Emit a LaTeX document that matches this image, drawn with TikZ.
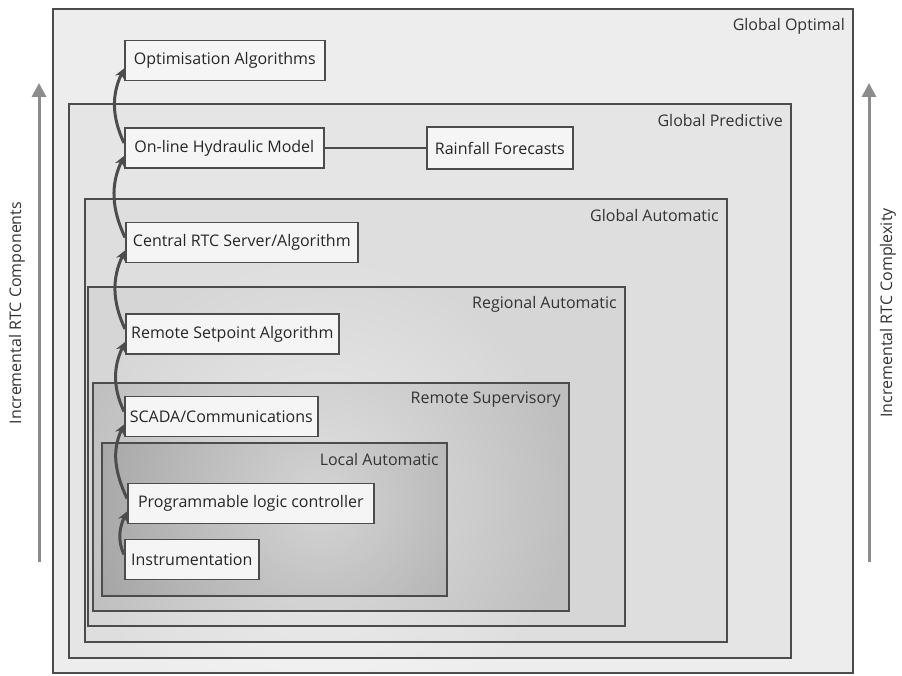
\documentclass[tikz,border=0pt]{standalone}
\usepackage{fontspec}
\setmainfont{Open Sans}
\usetikzlibrary{arrows.meta,fadings}
\tikzfading[name=glow, inner color=transparent!0, outer color=transparent!100]

\begin{document}
\begin{tikzpicture}[x=1pt, y=1pt,
		font=\fontsize{16}{19}\selectfont,
		frame/.style={draw=black!70, line width=1.6pt},
		level/.style={anchor=east, text=black!80, inner sep=0pt},
		component/.style={draw=black!70, line width=1.6pt, fill=black!4, text=black!85,
				inner sep=0pt, minimum height=40pt, anchor=west},
		riser/.style={draw=black!70, line width=3pt, -{Stealth[length=10pt, width=10pt]}},
		trend/.style={draw=black!45, line width=3pt, -{Triangle[length=14pt, width=14pt]}}]
	\useasboundingbox (0,0) rectangle (902,675);
	% nested levels of control
	\foreach \lx/\by/\rx/\ty/\tone in {53/2/853/666/7, 69/17/791/571/10, 85/33/727/476/13,
			88/49/625/388/16, 93/64/569/292/25, 102/79/447/232/36}{
			\fill[black!\tone] (\lx,\by) rectangle (\rx,\ty);
		}
	\fill[white, opacity=.55, path fading=glow] (320,175) circle (250);
	\foreach \name/\lx/\by/\rx/\ty/\lbl in {optimal/53/2/853/666/Global Optimal,
			predictive/69/17/791/571/Global Predictive, automatic/85/33/727/476/Global Automatic,
			regional/88/49/625/388/Regional Automatic, supervisory/93/64/569/292/Remote Supervisory,
			local/102/79/447/232/Local Automatic}{
			\draw[frame] (\lx,\by) rectangle (\rx,\ty);
			\node[level] (\name) at (\rx-8,\ty-17) {\lbl};
		}
	% components
	\node[component, minimum width=200pt] (opt) at (124,614.5) {Optimisation Algorithms};
	\node[component, minimum width=199pt] (hyd) at (124,527) {On-line Hydraulic Model};
	\node[component, minimum width=146pt, minimum height=42pt] (rain) at (426,527) {Rainfall Forecasts};
	\node[component, minimum width=232pt] (crtc) at (125,432.5) {Central RTC Server/Algorithm};
	\node[component, minimum width=213pt] (rsp) at (125,341) {Remote Setpoint Algorithm};
	\node[component, minimum width=193pt] (scada) at (124,258.5) {SCADA/Communications};
	\node[component, minimum width=246pt] (plc) at (127,171.5) {Programmable logic controller};
	\node[component, minimum width=134pt] (instr) at (124,115.5) {Instrumentation};
	\draw[draw=black!70, line width=1.2pt] (hyd) -- (rain);
	\foreach \src/\dst in {instr/plc, plc/scada, scada/rsp, rsp/crtc, crtc/hyd, hyd/opt}{
			\draw[riser] ([yshift=5pt]\src.west) to[out=115, in=245] ([yshift=-8pt]\dst.west);
		}
	% side arrows
	\coordinate (lefttail) at (39,113);
	\coordinate (lefthead) at (39,592);
	\coordinate (righttail) at (869,113);
	\coordinate (righthead) at (869,592);
	\draw[trend] (lefttail) -- (lefthead);
	\draw[trend] (righttail) -- (righthead);
	\node[rotate=90, text=black!80] (components) at (17,362) {Incremental RTC Components};
	\node[rotate=90, text=black!80] (complexity) at (888,362) {Incremental RTC Complexity};
\end{tikzpicture}
\end{document}
